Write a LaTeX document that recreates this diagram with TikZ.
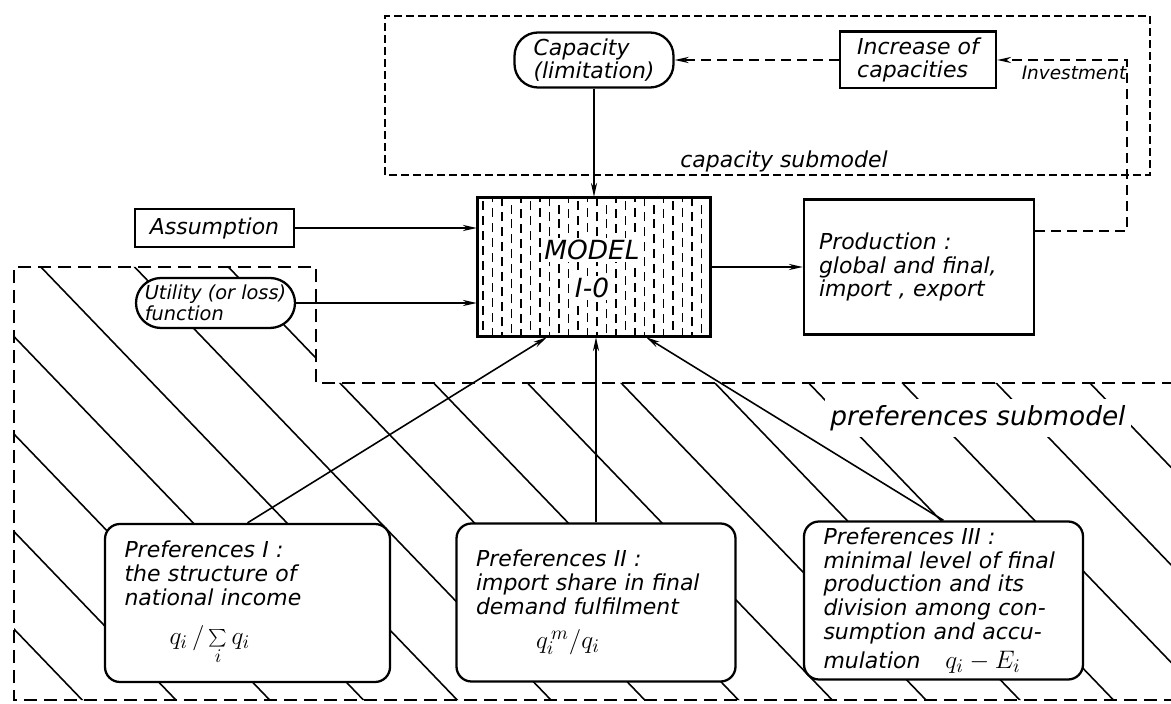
\documentclass[tikz,border=0pt]{standalone}
\usepackage{fontspec}
\setmainfont{DejaVu Sans}
\usetikzlibrary{arrows.meta}

\newcommand{\fml}[1]{{\fontsize{15}{16}\selectfont$#1$}}

\begin{document}
\begin{tikzpicture}[font={\itshape\fontsize{12.5}{13.5}\selectfont},
  box/.style={draw,line width=1.3pt,fill=white,align=left},
  pill/.style={box,rounded corners=0.47cm,minimum width=3.18cm,minimum height=0.96cm,inner xsep=2pt},
  prefbox/.style={box,rounded corners=0.3cm,text width=4.8cm,inner xsep=0.39cm,minimum height=3.16cm},
  arr/.style={line width=0.9pt,-{Stealth[length=8pt,width=3.5pt]}},
  dasharr/.style={arr,dash pattern=on 0.2cm off 0.12cm},
  hatch/.style={line width=0.9pt},
  region/.style={line width=1.3pt,dash pattern=on 0.26cm off 0.14cm},
  capregion/.style={line width=1.1pt,dash pattern=on 0.16cm off 0.08cm}]
\useasboundingbox (0,0) rectangle (23.42,14.06);

% preferences submodel (hatched)
\begin{scope}
  \clip (0.28,8.72) -- (6.32,8.72) -- (6.32,6.4) -- (23.42,6.4) -- (23.42,0.06) -- (0.28,0.06) -- cycle;
  \foreach \k in {-11,...,3}
    \draw[hatch] (0,{(381-97.5*\k)/50}) -- ++(24,-24.96);
\end{scope}
\draw[region] (23.5,6.4) -- (6.32,6.4) -- (6.32,8.72) -- (0.28,8.72) -- (0.28,0.06) -- (23.5,0.06);
\node[fill=white,font={\itshape\fontsize{15}{16}\selectfont}] (prefsub) at (19.56,5.7) {preferences submodel};

% capacity submodel
\draw[capregion] (7.70,10.56) rectangle (23.0,13.74);
\node (capsub) at (15.68,10.84) {capacity submodel};

\node[pill] (cap) at (11.88,12.86) {Capacity\\(limitation)};
\node[box,minimum width=3.12cm,minimum height=0.94cm] (incr) at (18.36,12.86) {Increase of\\capacities};
\node[font={\itshape\fontsize{10.5}{12}\selectfont}] (invest) at (21.48,12.6) {Investment};

\node[box,minimum width=3.18cm,minimum height=0.76cm] (assump) at (4.29,9.5) {Assumption};
\node[pill,minimum height=1cm,rounded corners=0.5cm,font={\itshape\fontsize{11}{12}\selectfont}] (util) at (4.31,8.0) {Utility (or loss)\\function};

% model I-O
\node[box,minimum width=4.64cm,minimum height=2.76cm] (model) at (11.88,8.72) {};
\begin{scope}
  \clip ([shift={(0.06,0.06)}]model.south west) rectangle ([shift={(-0.06,-0.06)}]model.north east);
  \foreach \x [count=\i] in {9.66,9.85,...,14.15}{
    \pgfmathsetmacro\ph{mod(\i*7,5)*0.07}
    \draw[line width=1pt,dash pattern=on 0.18cm off 0.12cm,dash phase=\ph cm] (\x,7.3) -- (\x,10.2);
  }
\end{scope}
\draw[line width=1.3pt] (model.south west) rectangle (model.north east);
\node[fill=white,inner sep=1pt,font={\itshape\fontsize{15}{16}\selectfont}] (mtxt) at (11.84,9.06) {MODEL};
\node[fill=white,inner sep=1pt,font={\itshape\fontsize{15}{16}\selectfont}] (mnum) at (11.84,8.3) {I-0};

\node[box,text width=4.0cm,inner xsep=0.3cm,minimum height=2.7cm] (prod) at (18.38,8.72)
  {Production :\\global and final,\\import , export};

% preferences
\node[prefbox,text width=4.92cm] (pref1) at (4.95,2.0)
  {Preferences I :\\the structure of\\national income\\[9pt]\hspace*{0.9cm}\fml{q_i \,/ \sum\limits_i q_i}};
\node[prefbox] (pref2) at (11.92,2.01)
  {Preferences II :\\import share in final\\demand fulfilment\\[6pt]\hspace*{1.2cm}\fml{q_i^{\,m} / q_i}};
\node[prefbox] (pref3) at (18.87,2.05)
  {Preferences III :\\minimal level of final\\production and its\\division among con-\\sumption and accu-\\[3pt]mulation\hspace{0.5cm}\fml{q_i - E_i}};

% connectors
\draw[arr] (cap.south) -- (cap.south |- model.north);
\draw[dasharr] (incr.west) -- (cap.east);
\draw[dasharr] ([yshift=0.72cm]prod.east) -- ++(1.84,0) |- (incr.east);
\draw[arr] (assump.east) -- (assump.east -| model.west);
\draw[arr] (util.east) -- (util.east -| model.west);
\draw[arr] (model.east) -- (prod.west);
\draw[arr] (pref1.north) -- ([xshift=-0.94cm]model.south);
\draw[arr] (pref2.north) -- (pref2.north |- model.south);
\draw[arr] (pref3.north) -- ([xshift=1.04cm]model.south);
\end{tikzpicture}
\end{document}
